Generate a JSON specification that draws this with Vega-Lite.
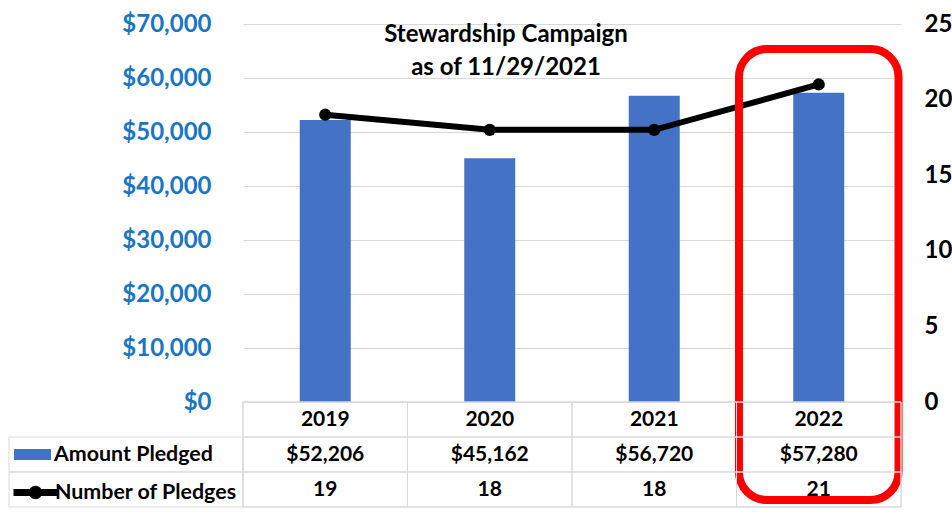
{
  "$schema": "https://vega.github.io/schema/vega-lite/v6.json",
  "padding": {"left": 8, "top": 12, "right": 0, "bottom": 0},
  "background": "white",
  "columns": 2,
  "spacing": 0,
  "bounds": "flush",
  "align": "each",
  "config": {"view": {"stroke": null}, "font": "Lato"},
  "datasets": {
    "pledges": [
      {"year": "2019", "amount": 52206, "count": 19},
      {"year": "2020", "amount": 45162, "count": 18},
      {"year": "2021", "amount": 56720, "count": 18},
      {"year": "2022", "amount": 57280, "count": 21}
    ],
    "rows": [
      {"row": "Year"},
      {"row": "Amount Pledged"},
      {"row": "Number of Pledges"}
    ]
  },
  "concat": [
    {
      "width": 234,
      "height": 378,
      "data": {"values": []},
      "mark": "point",
      "encoding": {}
    },
    {
      "width": 658,
      "height": 378,
      "data": {"name": "pledges"},
      "title": {
        "text": ["Stewardship Campaign", "as of 11/29/2021"],
        "font": "Lato",
        "fontSize": 24,
        "fontWeight": "bold",
        "color": "black",
        "anchor": "middle",
        "frame": "group",
        "offset": -68,
        "dx": -66,
        "lineHeight": 33
      },
      "layer": [
        {
          "mark": {"type": "bar", "width": {"band": 0.31}},
          "encoding": {
            "x": {"field": "year", "type": "ordinal", "scale": {"domain": ["2019", "2020", "2021", "2022"], "paddingInner": 0, "paddingOuter": 0}, "axis": null},
            "y": {
              "field": "amount",
              "type": "quantitative",
              "scale": {"domain": [0, 70000], "nice": false},
              "axis": {
                "orient": "left",
                "values": [0, 10000, 20000, 30000, 40000, 50000, 60000, 70000],
                "format": "$,.0f",
                "labelFont": "Lato",
                "labelFontSize": 24,
                "labelFontWeight": "bold",
                "labelColor": "#1A75C2",
                "labelPadding": 32,
                "ticks": false,
                "domain": false,
                "grid": true,
                "gridColor": "#D9D9D9",
                "title": null
              }
            },
            "fill": {
              "datum": "Amount Pledged",
              "type": "nominal",
              "scale": {"range": ["#4472C4"]},
              "legend": {
                "orient": "none",
                "legendX": 5,
                "legendY": 412,
                "title": null,
                "padding": 0,
                "symbolType": "M-1,-0.3H1V0.3H-1Z",
                "symbolSize": 1369,
                "symbolStrokeWidth": 0,
                "labelFont": "Lato",
                "labelFontSize": 21.4,
                "labelFontWeight": "bold",
                "labelColor": "black",
                "labelOffset": 3,
                "labelLimit": 300
              }
            }
          }
        },
        {
          "layer": [
            {
              "mark": {"type": "line", "strokeWidth": 6},
              "encoding": {
                "x": {"field": "year", "type": "ordinal"},
                "y": {
                  "field": "count",
                  "type": "quantitative",
                  "scale": {"domain": [0, 25], "nice": false},
                  "axis": {
                    "orient": "right",
                    "values": [0, 5, 10, 15, 20, 25],
                    "labelFont": "Lato",
                    "labelFontSize": 24,
                    "labelFontWeight": "bold",
                    "labelColor": "black",
                    "labelPadding": 23,
                    "ticks": false,
                    "domain": false,
                    "grid": false,
                    "title": null
                  }
                },
                "stroke": {
                  "datum": "Number of Pledges",
                  "type": "nominal",
                  "scale": {"range": ["black"]},
                  "legend": {
                    "orient": "none",
                    "legendX": 1,
                    "legendY": 443,
                    "title": null,
                    "padding": 0,
                    "symbolType": "M-1,0H1M0.15,0A0.15,0.15 0 1 1 -0.15,0A0.15,0.15 0 1 1 0.15,0Z",
                    "symbolSize": 1936,
                    "symbolStrokeWidth": 7,
                    "symbolFillColor": "black",
                    "symbolStrokeColor": "black",
                    "labelFont": "Lato",
                    "labelFontSize": 21.4,
                    "labelFontWeight": "bold",
                    "labelColor": "black",
                    "labelOffset": -6,
                    "labelLimit": 300,
                    "encode": {"symbols": {"update": {"fill": {"value": "black"}, "stroke": {"value": "black"}, "strokeWidth": {"value": 7}}}}
                  }
                }
              }
            },
            {
              "mark": {"type": "point", "filled": true, "size": 150, "color": "black", "opacity": 1},
              "encoding": {
                "x": {"field": "year", "type": "ordinal"},
                "y": {"field": "count", "type": "quantitative"}
              }
            }
          ]
        },
        {
          "transform": [{"filter": "datum.year === '2022'"}],
          "mark": {"type": "bar", "fill": "transparent", "stroke": "#FF0000", "strokeWidth": 8, "cornerRadius": 28, "width": {"band": 0.97}},
          "encoding": {
            "x": {"field": "year", "type": "ordinal"},
            "y": {"datum": 65370, "type": "quantitative", "scale": {"domain": [0, 70000], "nice": false}, "axis": null},
            "y2": {"datum": -18150}
          }
        }
      ],
      "resolve": {"scale": {"y": "independent"}}
    },
    {
      "width": 234,
      "height": 105,
      "data": {"name": "rows"},
      "transform": [{"filter": "datum.row !== 'Year'"}],
      "mark": {"type": "rect", "fill": "transparent", "stroke": "#D9D9D9", "strokeWidth": 1},
      "encoding": {
        "y": {"field": "row", "type": "nominal", "scale": {"domain": ["Year", "Amount Pledged", "Number of Pledges"], "paddingInner": 0, "paddingOuter": 0}, "axis": null}
      }
    },
    {
      "width": 658,
      "height": 105,
      "layer": [
        {
          "data": {"name": "pledges"},
          "mark": {"type": "rect", "fill": "transparent", "stroke": "#D9D9D9", "strokeWidth": 1},
          "encoding": {
            "x": {"field": "year", "type": "ordinal", "scale": {"domain": ["2019", "2020", "2021", "2022"], "paddingInner": 0, "paddingOuter": 0}, "axis": null}
          }
        },
        {
          "data": {"name": "rows"},
          "mark": {"type": "rect", "fill": "transparent", "stroke": "#D9D9D9", "strokeWidth": 1},
          "encoding": {
            "y": {"field": "row", "type": "nominal", "scale": {"domain": ["Year", "Amount Pledged", "Number of Pledges"], "paddingInner": 0, "paddingOuter": 0}, "axis": null}
          }
        },
        {
          "data": {"name": "pledges"},
          "mark": {"type": "text", "font": "Lato", "fontSize": 21, "fontWeight": "bold", "color": "black"},
          "encoding": {
            "x": {"field": "year", "type": "ordinal"},
            "y": {"datum": "Year", "type": "nominal"},
            "text": {"field": "year", "type": "nominal"}
          }
        },
        {
          "data": {"name": "pledges"},
          "mark": {"type": "text", "font": "Lato", "fontSize": 21, "fontWeight": "bold", "color": "black"},
          "encoding": {
            "x": {"field": "year", "type": "ordinal"},
            "y": {"datum": "Amount Pledged", "type": "nominal"},
            "text": {"field": "amount", "type": "quantitative", "format": "$,.0f"}
          }
        },
        {
          "data": {"name": "pledges"},
          "mark": {"type": "text", "font": "Lato", "fontSize": 21, "fontWeight": "bold", "color": "black"},
          "encoding": {
            "x": {"field": "year", "type": "ordinal"},
            "y": {"datum": "Number of Pledges", "type": "nominal"},
            "text": {"field": "count", "type": "quantitative"}
          }
        }
      ]
    }
  ]
}
